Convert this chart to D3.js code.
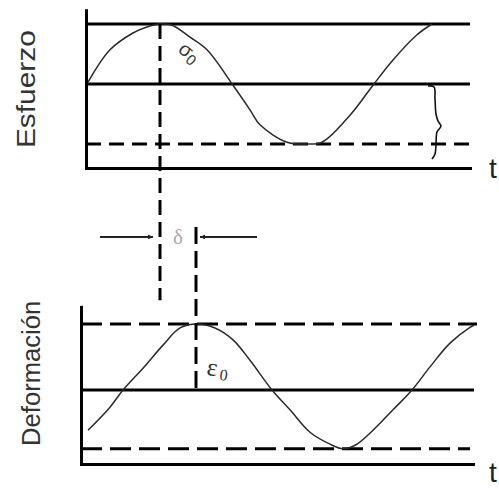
<!DOCTYPE html>
<html>
<head>
<meta charset="utf-8">
<script src="https://cdn.jsdelivr.net/npm/d3@7"></script>
<style>
  html, body { margin: 0; padding: 0; background: #fff; }
  svg { display: block; }
</style>
</head>
<body>
<svg id="chart" width="499" height="489"></svg>
<script>
// Stress over time, normalised to its amplitude σ0
const stressTime  = [0.02, 0.24, 0.47, 0.61, 0.74, 0.86, 1.04, 1.21, 1.47, 1.64, 1.74, 2.01, 2.19, 2.36, 2.64, 2.87, 3.07, 3.31, 3.46];
const stressValue = [0.03, 0.57, 0.85, 0.95, 1.00, 0.98, 0.78, 0.57, -0.02, -0.43, -0.68, -0.97, -1.00, -0.97, -0.52, -0.02, 0.40, 0.82, 1.00];

// Strain over time, normalised to its amplitude ε0
const strainTime  = [0.07, 0.29, 0.42, 0.62, 0.82, 0.99, 1.16, 1.34, 1.52, 1.69, 1.91, 2.09, 2.29, 2.49, 2.62, 2.75, 2.92, 3.12, 3.31, 3.49, 3.69, 3.89, 3.93];
const strainValue = [-0.61, -0.26, 0.00, 0.33, 0.68, 0.94, 1.00, 0.94, 0.76, 0.45, 0.00, -0.30, -0.64, -0.82, -0.89, -0.83, -0.61, -0.30, 0.00, 0.35, 0.71, 0.95, 0.98];

// Reference levels of each panel
const stressSolidLevels  = [1, 0];
const stressDashedLevels = [-1];
const strainSolidLevels  = [0];
const strainDashedLevels = [1, -0.89];

// Times of the two peaks; their gap is the phase lag δ
const stressPeakTime = 0.74;
const strainPeakTime = 1.15;

// Text
const panelLabels = ["Esfuerzo", "Deformación"];
const timeLabel = "t";
const lagLabel = "δ";

const svg = d3.select("#chart");
const ink = "#000";
const font = "'Liberation Sans', Arial, sans-serif";

// ---- scales ----
const xTop = d3.scaleLinear().domain([0, 4]).range([86, 486]);
const yTop = d3.scaleLinear().domain([-1, 1]).range([144, 24]);
const xBot = d3.scaleLinear().domain([0, 4]).range([81, 481]);
const yBot = d3.scaleLinear().domain([0, 1]).range([390, 324]);

const topExtent = { tEnd: 3.84, yMin: -1.4, yMax: 1.23 };
const botExtent = { tEnd: 3.92, yMin: -1.12, yMax: 1.26 };

// ---- axes (bare frames, no ticks) ----
function drawFrame(x, y, ext) {
  const g = svg.append("g");
  const xAxisScale = x.copy().domain([0, ext.tEnd]).range([x(0), x(ext.tEnd)]);
  const yAxisScale = y.copy().domain([ext.yMin, ext.yMax]).range([y(ext.yMin), y(ext.yMax)]);
  g.append("g")
    .attr("transform", `translate(0,${y(ext.yMin)})`)
    .call(d3.axisBottom(xAxisScale).tickValues([]).tickSizeOuter(0));
  g.append("g")
    .attr("transform", `translate(${x(0)},0)`)
    .call(d3.axisLeft(yAxisScale).tickValues([]).tickSizeOuter(0));
  g.selectAll(".domain")
    .attr("stroke", ink)
    .attr("stroke-width", 3)
    .attr("stroke-linecap", "square");
}

function drawLevels(x, y, levels, tEnd, dash) {
  svg.append("g").selectAll("line")
    .data(levels)
    .join("line")
    .attr("x1", x(0)).attr("x2", x(tEnd))
    .attr("y1", d => y(d)).attr("y2", d => y(d))
    .attr("stroke", ink)
    .attr("stroke-width", 3)
    .attr("stroke-dasharray", dash);
}

const wave = (x, y) => d3.line()
  .x(d => x(d[0]))
  .y(d => y(d[1]))
  .curve(d3.curveCatmullRom);

// ---- stress panel ----
drawLevels(xTop, yTop, stressSolidLevels, 3.84, null);
drawLevels(xTop, yTop, stressDashedLevels, 3.84, "15,8");
drawFrame(xTop, yTop, topExtent);
svg.append("path")
  .attr("d", wave(xTop, yTop)(d3.zip(stressTime, stressValue)))
  .attr("fill", "none")
  .attr("stroke", "#2a2a2a")
  .attr("stroke-width", 1.5);

// ---- strain panel ----
drawLevels(xBot, yBot, strainSolidLevels, 3.93, null);
drawLevels(xBot, yBot, [strainDashedLevels[0]], 3.96, "21,8");
drawLevels(xBot, yBot, [strainDashedLevels[1]], 3.89, "21,8");
drawFrame(xBot, yBot, botExtent);
svg.append("path")
  .attr("d", wave(xBot, yBot)(d3.zip(strainTime, strainValue)))
  .attr("fill", "none")
  .attr("stroke", "#2a2a2a")
  .attr("stroke-width", 1.5);

// ---- peak markers linking the panels ----
const xA = xTop(stressPeakTime);
const xB = xBot(strainPeakTime);
svg.append("line")
  .attr("x1", xA).attr("x2", xA)
  .attr("y1", yTop(1)).attr("y2", yBot(1.36))
  .attr("stroke", ink).attr("stroke-width", 3)
  .attr("stroke-dasharray", "15,7");
svg.append("line")
  .attr("x1", xB).attr("x2", xB)
  .attr("y1", yBot(2.47)).attr("y2", yBot(0))
  .attr("stroke", ink).attr("stroke-width", 3)
  .attr("stroke-dasharray", "17,7");

// ---- δ arrows ----
svg.append("defs").append("marker")
  .attr("id", "head")
  .attr("viewBox", "0 0 10 10")
  .attr("refX", 10).attr("refY", 5)
  .attr("markerWidth", 9).attr("markerHeight", 5)
  .attr("markerUnits", "userSpaceOnUse")
  .attr("orient", "auto")
  .append("path")
  .attr("d", "M0,0L10,5L0,10Z")
  .attr("fill", "#222");

const yArrow = yBot(2.32);
svg.append("line")
  .attr("x1", xA - 60).attr("x2", xA - 7)
  .attr("y1", yArrow).attr("y2", yArrow)
  .attr("stroke", "#222").attr("stroke-width", 2)
  .attr("marker-end", "url(#head)");
svg.append("line")
  .attr("x1", xB + 61).attr("x2", xB + 4)
  .attr("y1", yArrow).attr("y2", yArrow)
  .attr("stroke", "#222").attr("stroke-width", 2)
  .attr("marker-end", "url(#head)");
svg.append("text")
  .attr("x", (xA + xB) / 2).attr("y", yArrow + 7)
  .attr("text-anchor", "middle")
  .attr("font-family", "'Liberation Serif', serif")
  .attr("font-size", 21)
  .attr("fill", "#aaa")
  .text(lagLabel);

// ---- brace marking the stress amplitude ----
const braceX = xTop(3.49);
const braceY = yTop(0);
const braceShape = [[-7, 2], [-1, 3], [0, 15], [1, 30], [3, 37], [6, 42], [2, 48], [1, 60], [0, 70], [-3, 75]];
svg.append("path")
  .attr("d", d3.line().x(d => braceX + d[0]).y(d => braceY + d[1]).curve(d3.curveCatmullRom)(braceShape))
  .attr("fill", "none")
  .attr("stroke", "#111")
  .attr("stroke-width", 1.6);

// ---- amplitude labels ----
const sigma = svg.append("text")
  .attr("transform", `translate(${xTop(0.91)},${yTop(0.55)}) rotate(40)`)
  .attr("font-family", font)
  .attr("font-size", 20)
  .attr("fill", "#333");
sigma.append("tspan").text("σ");
sigma.append("tspan").attr("font-size", 15).attr("dy", 3).text("0");

const eps = svg.append("text")
  .attr("transform", `translate(${xBot(1.25)},${yBot(0.23)}) rotate(8)`)
  .attr("font-family", "'Liberation Serif', serif")
  .attr("font-size", 25)
  .attr("fill", "#333");
eps.append("tspan").text("ε");
eps.append("tspan").attr("font-size", 16).attr("dy", 3).attr("dx", 3).text("0");

// ---- panel titles ----
svg.append("text")
  .attr("transform", `translate(35,${(yTop(topExtent.yMin) + yTop(topExtent.yMax)) / 2}) rotate(-90)`)
  .attr("text-anchor", "middle")
  .attr("font-family", font)
  .attr("font-size", 25)
  .attr("fill", "#333")
  .attr("textLength", 118)
  .attr("lengthAdjust", "spacingAndGlyphs")
  .text(panelLabels[0]);
svg.append("text")
  .attr("transform", `translate(40,${(yBot(botExtent.yMin) + yBot(botExtent.yMax)) / 2 - 12}) rotate(-90)`)
  .attr("text-anchor", "middle")
  .attr("font-family", font)
  .attr("font-size", 25)
  .attr("fill", "#333")
  .attr("textLength", 145)
  .attr("lengthAdjust", "spacingAndGlyphs")
  .text(panelLabels[1]);

// ---- time labels ----
svg.append("text")
  .attr("x", 489).attr("y", 178)
  .attr("font-family", font).attr("font-size", 28).attr("fill", "#222")
  .text(timeLabel);
svg.append("text")
  .attr("x", 489).attr("y", 482)
  .attr("font-family", font).attr("font-size", 28).attr("fill", "#222")
  .text(timeLabel);
</script>
</body>
</html>
